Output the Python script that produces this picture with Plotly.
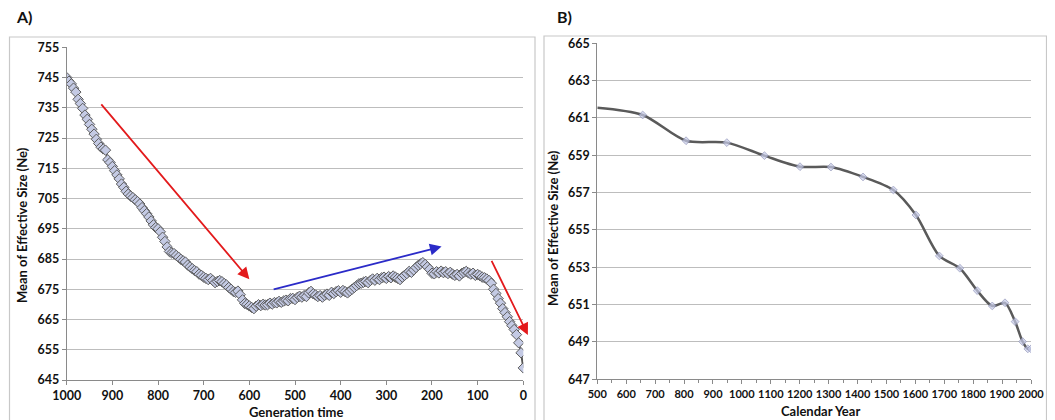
import plotly.graph_objects as go

# ---------------- Panel A data ----------------
gen_a = list(range(1000, -1, -5))
ne_a = [
    745.0, 743.8, 742.9, 741.5, 740.2, 737.8, 736.4, 734.8, 732.6, 731.2,
    729.5, 727.9, 726.3, 724.6, 723.2, 722.0, 721.4, 721.0, 717.8, 716.9,
    715.6, 714.2, 712.8, 711.5, 709.8, 708.7, 707.4, 706.5, 705.8, 705.3,
    704.6, 704.0, 703.2, 702.0, 701.0, 700.0, 698.9, 697.6, 696.3, 695.4,
    695.0, 694.0, 692.2, 690.8, 689.0, 687.5, 687.0, 686.8, 686.2, 685.6,
    684.9, 684.4, 684.0, 683.0, 682.4, 681.8, 681.2, 680.8, 680.0, 679.6,
    679.0, 678.6, 678.2, 678.6, 677.9, 677.2, 677.6, 677.9, 677.5, 676.9,
    676.4, 675.6, 675.0, 674.3, 674.0, 674.4, 673.2, 671.5, 670.3, 670.0,
    669.5, 669.0, 668.6, 669.4, 669.9, 669.6, 670.0, 669.8, 669.9, 670.4,
    670.1, 670.6, 670.5, 671.0, 670.7, 671.1, 671.4, 671.2, 671.9, 672.0,
    671.6, 672.3, 672.7, 672.4, 672.9, 672.6, 673.8, 674.3, 673.5, 673.1,
    672.6, 672.9, 672.4, 673.0, 673.4, 673.0, 674.0, 673.6, 674.2, 674.5,
    674.0, 674.6, 674.2, 673.8, 674.4, 675.0, 675.6, 676.2, 676.8, 677.0,
    677.3, 677.6, 677.2, 677.9, 678.4, 678.0, 678.6, 678.2, 678.8, 679.0,
    678.6, 679.2, 678.8, 679.4, 679.0, 678.6, 678.2, 679.0, 679.6, 680.2,
    680.9, 680.6, 681.4, 682.2, 682.9, 683.4, 683.8, 683.2, 682.4, 681.6,
    680.3, 680.1, 680.8, 680.4, 681.0, 680.5, 680.8, 680.2, 680.6, 680.0,
    679.6, 679.9, 679.4, 680.2, 680.6, 680.9, 680.4, 680.0, 680.3, 679.6,
    679.9, 679.5, 679.0, 678.8, 678.4, 677.9, 677.0, 675.0, 673.6, 671.9,
    670.4, 668.6, 667.3, 665.9, 664.3, 663.0, 661.7, 660.0, 657.3, 654.0,
    649.0,
]

# ---------------- Panel B data ----------------
year_b = [500, 657, 807, 948, 1078, 1201, 1308, 1419, 1524, 1602, 1683,
          1754, 1814, 1866, 1910, 1945, 1971, 1989, 2000]
ne_b = [661.55, 661.16, 659.78, 659.68, 658.98, 658.39, 658.37, 657.84,
        657.14, 655.8, 653.61, 652.95, 651.75, 650.93, 651.1, 650.09,
        649.02, 648.63, 648.63]
marker_b_sizes = [0] + [6] * (len(year_b) - 1)

# Arrow (tail -> head) positions in data units of panel A
arrows = [
    dict(tail=(927, 736.6), head=(600, 678.3), color="#e31a1c"),
    dict(tail=(550, 674.8), head=(179, 689.1), color="#2b2bc8"),
    dict(tail=(71, 684.9), head=(-10, 659.9), color="#e31a1c"),
]

OFF = 8            # page body margin
W, H = 1055 - OFF, 420 - OFF
FONT = "Lato"
GRID = "#bdbdbd"
AXIS = "#8a8a8a"


def px_x(p):
    return (p - OFF) / W


def px_y(p):
    return 1 - (p - OFF) / H


fig = go.Figure()

fig.add_trace(go.Scatter(
    x=gen_a, y=ne_a, mode="lines+markers",
    line=dict(color="#555555", width=2),
    marker=dict(symbol="diamond", size=8, color="#c4cae4",
                line=dict(color="#5c5c5c", width=1)),
    xaxis="x", yaxis="y", showlegend=False,
))

fig.add_trace(go.Scatter(
    x=year_b, y=ne_b, mode="lines+markers",
    line=dict(color="#5a5a5a", width=2.5, shape="spline", smoothing=0.8),
    marker=dict(symbol="diamond", size=marker_b_sizes, color="#c8cdea",
                line=dict(color="#8e92b8", width=1)),
    xaxis="x2", yaxis="y2", showlegend=False,
))

tickfont = dict(family=FONT, size=12.5, color="#111111", weight="bold")
tickfont_b = dict(family=FONT, size=11, color="#111111", weight="bold")

common_axis = dict(
    showline=True, linecolor=AXIS, linewidth=1, mirror=False,
    ticks="outside", tickcolor=AXIS, ticklen=4, tickangle=0,
    zeroline=False, automargin=False,
)

fig.update_layout(
    template="none",
    width=W, height=H,
    margin=dict(l=0, r=0, t=0, b=0, pad=0, autoexpand=False),
    paper_bgcolor="white", plot_bgcolor="white",
    showlegend=False,
    xaxis=dict(domain=[px_x(66.7), px_x(523.3)], range=[1000, 0],
               dtick=100, tick0=0, showgrid=False, anchor="y",
               tickfont=tickfont, **common_axis),
    yaxis=dict(domain=[px_y(380), px_y(47.3)], range=[645, 755],
               dtick=10, tick0=645, showgrid=True, gridcolor=GRID,
               gridwidth=1, anchor="x", tickfont=tickfont, **common_axis),
    xaxis2=dict(domain=[px_x(597.3), px_x(1031)], range=[500, 2000],
                dtick=100, tick0=500, showgrid=False, anchor="y2",
                minor=dict(dtick=50, ticks="outside", ticklen=3,
                           tickcolor=AXIS),
                tickfont=tickfont_b, **common_axis),
    yaxis2=dict(domain=[px_y(379.3), px_y(43.3)], range=[647, 665],
                dtick=2, tick0=647, showgrid=True, gridcolor=GRID,
                gridwidth=1, anchor="x2", tickfont=tickfont, **common_axis),
)

# Panel borders
for x0, x1, y0 in [(9.5, 535, 37), (544, 1046.5, 36)]:
    fig.add_shape(type="rect", xref="paper", yref="paper",
                  x0=px_x(x0), x1=px_x(x1), y0=px_y(y0), y1=px_y(430),
                  line=dict(color="#c8c8c8", width=1.2),
                  fillcolor="rgba(0,0,0,0)", layer="below")

titlefont = dict(family=FONT, size=13, color="#111111", weight="bold")

annos = [
    dict(text="A)", x=px_x(14), y=px_y(17), xanchor="left", yanchor="middle",
         font=dict(family=FONT, size=16, color="#111111", weight="bold")),
    dict(text="B)", x=px_x(555), y=px_y(17), xanchor="left", yanchor="middle",
         font=dict(family=FONT, size=16, color="#111111", weight="bold")),
    dict(text="Generation time", x=px_x(295.5), y=px_y(411.5),
         xanchor="center", yanchor="middle", font=titlefont),
    dict(text="Calendar Year", x=px_x(820), y=px_y(410.5),
         xanchor="center", yanchor="middle", font=titlefont),
    dict(text="Mean of Effective Size (Ne)", x=px_x(22), y=px_y(225),
         xanchor="center", yanchor="middle", textangle=-90, font=titlefont),
    dict(text="Mean of Effective Size (Ne)", x=px_x(553), y=px_y(228),
         xanchor="center", yanchor="middle", textangle=-90, font=titlefont),
]
for a in annos:
    fig.add_annotation(xref="paper", yref="paper", showarrow=False, **a)

for ar in arrows:
    fig.add_annotation(
        xref="x", yref="y", axref="x", ayref="y",
        x=ar["head"][0], y=ar["head"][1],
        ax=ar["tail"][0], ay=ar["tail"][1],
        text="", showarrow=True, arrowhead=2, arrowsize=1.3,
        arrowwidth=1.8, arrowcolor=ar["color"],
    )

fig.write_html("out.html")
